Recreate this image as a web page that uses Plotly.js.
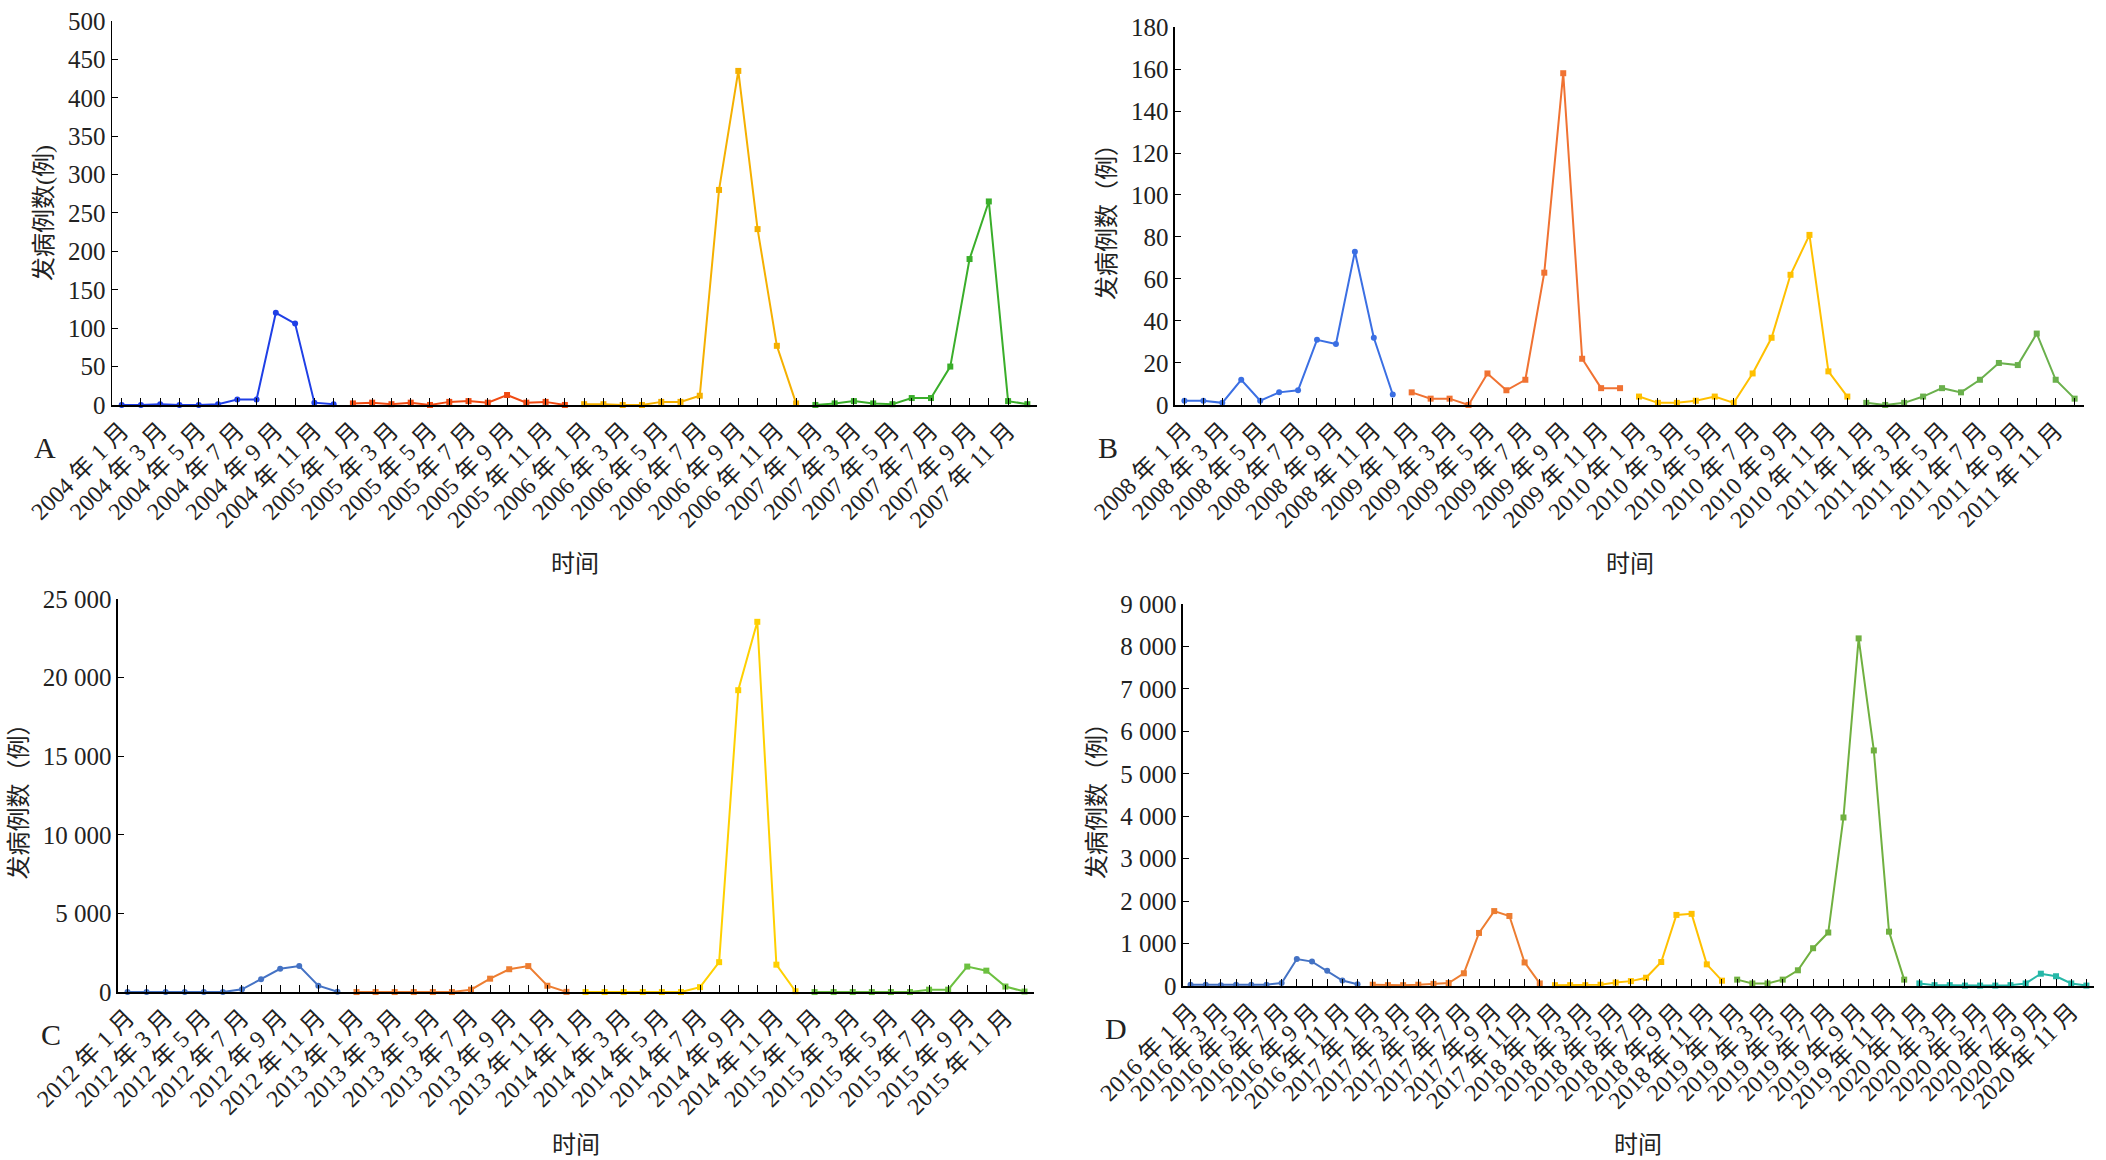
<!DOCTYPE html>
<html>
<head>
<meta charset="utf-8">
<script src="https://cdn.plot.ly/plotly-3.0.1.min.js"></script>
<style>body{margin:0;background:#fff}#chart{width:2106px;height:1160px}</style>
</head>
<body>
<div id="chart"></div>
<script>
var yearsA = ['2004', '2005', '2006', '2007'];
var yearsB = ['2008', '2009', '2010', '2011'];
var yearsC = ['2012', '2013', '2014', '2015'];
var yearsD = ['2016', '2017', '2018', '2019', '2020'];

var casesA = [
  [0, 0, 1, 0, 0, 1, 7, 7, 120, 106, 3, 1],
  [2, 3, 1, 3, 0, 4, 5, 3, 13, 3, 4, 0],
  [1, 1, 0, 0, 4, 4, 12, 280, 435, 229, 77, 2],
  [0, 2, 5, 2, 1, 9, 9, 50, 190, 265, 5, 1]
];
var casesB = [
  [2, 2, 1, 12, 2, 6, 7, 31, 29, 73, 32, 5],
  [6, 3, 3, 0, 15, 7, 12, 63, 158, 22, 8, 8],
  [4, 1, 1, 2, 4, 1, 15, 32, 62, 81, 16, 4],
  [1, 0, 1, 4, 8, 6, 12, 20, 19, 34, 12, 3]
];
var casesC = [
  [0, 0, 0, 0, 0, 0, 170, 810, 1480, 1650, 400, 20],
  [0, 0, 0, 0, 0, 0, 150, 850, 1450, 1650, 400, 10],
  [0, 0, 0, 0, 0, 0, 310, 1900, 19200, 23550, 1740, 50],
  [0, 0, 0, 0, 0, 0, 150, 150, 1620, 1360, 350, 30]
];
var casesD = [
  [30, 30, 20, 30, 30, 30, 70, 635, 575, 360, 130, 40],
  [30, 20, 20, 30, 50, 70, 300, 1250, 1765, 1650, 555, 60],
  [20, 20, 20, 30, 80, 115, 195, 565, 1675, 1700, 510, 125],
  [150, 60, 60, 150, 370, 890, 1260, 3970, 8190, 5550, 1280, 150],
  [60, 20, 20, 10, 10, 10, 20, 60, 290, 230, 60, 10]
];

var colorsA = ['#1f3fe6', '#f04a12', '#f5b000', '#3aae2a'];
var colorsB = ['#3b6fe3', '#f07232', '#ffc000', '#6ab04c'];
var colorsC = ['#4472c4', '#ed7d31', '#ffd000', '#6cc040'];
var colorsD = ['#4472c4', '#ed7d31', '#ffc000', '#70b040', '#26b8a8'];

var panels = [
  {years: yearsA, cases: casesA, colors: colorsA, x: [0.0532, 0.4924], y: [0.6509, 0.9819], range: [0, 500], dtick: 50, letter: 'A', title: '发病例数(例)', tY: 0.514},
  {years: yearsB, cases: casesB, colors: colorsB, x: [0.5579, 0.9896], y: [0.6509, 0.9767], range: [0, 180], dtick: 20, letter: 'B', title: '发病例数（例）', tY: 0.514},
  {years: yearsC, cases: casesC, colors: colorsC, x: [0.056, 0.491], y: [0.1448, 0.4836], range: [0, 25000], dtick: 5000, letter: 'C', title: '发病例数（例）', tY: 0.013},
  {years: yearsD, cases: casesD, colors: colorsD, x: [0.5617, 0.9943], y: [0.15, 0.4793], range: [0, 9000], dtick: 1000, letter: 'D', title: '发病例数（例）', tY: 0.013}
];

var font = {family: '"Liberation Serif", "Noto Sans CJK SC", serif', color: '#222'};
var data = [];
var layout = {
  width: 2106, height: 1160,
  margin: {l: 0, r: 0, t: 0, b: 0},
  paper_bgcolor: '#fff', plot_bgcolor: '#fff',
  showlegend: false,
  separators: '. ',
  font: font,
  annotations: []
};

panels.forEach(function (p, i) {
  var n = i === 0 ? '' : String(i + 1);
  var tickvals = [], ticktext = [];
  p.years.forEach(function (yr, j) {
    var xs = [];
    for (var m = 0; m < 12; m++) {
      xs.push(j * 12 + m);
      if (m % 2 === 0) {
        tickvals.push(j * 12 + m);
        ticktext.push(yr + ' 年 ' + (m + 1) + ' 月');
      }
    }
    data.push({
      x: xs, y: p.cases[j], type: 'scatter', mode: 'lines+markers',
      xaxis: 'x' + n, yaxis: 'y' + n, cliponaxis: false,
      line: {color: p.colors[j], width: 2},
      marker: {color: p.colors[j], size: 6, symbol: j === 0 ? 'circle' : 'square'}
    });
  });
  var nMonths = p.years.length * 12;
  layout['xaxis' + n] = {
    domain: p.x, anchor: 'y' + n, range: [-0.5, nMonths - 0.5],
    tickmode: 'array', tickvals: tickvals, ticktext: ticktext, tickangle: -45,
    showline: true, linecolor: '#000', linewidth: 2, showgrid: false, zeroline: false,
    ticks: 'inside', ticklen: 7, tickcolor: '#000',
    minor: {ticks: 'inside', dtick: 1, ticklen: 7, tickcolor: '#000'},
    tickfont: {family: font.family, size: 24, color: '#222'}
  };
  layout['yaxis' + n] = {
    domain: p.y, anchor: 'x' + n, range: p.range, dtick: p.dtick, tickformat: ',d',
    showline: true, linecolor: '#000', linewidth: 1.5, showgrid: false, zeroline: false,
    ticks: 'inside', ticklen: 6, tickcolor: '#000',
    tickfont: {family: font.family, size: 25, color: '#222'},
    title: {text: p.title, font: {family: font.family, size: 24, color: '#222'}, standoff: 8}
  };
  layout.annotations.push({
    text: p.letter, xref: 'paper', yref: 'paper', showarrow: false,
    x: p.x[0] - 0.032, y: p.y[0] - 0.037, xanchor: 'center', yanchor: 'middle',
    font: {family: font.family, size: 30, color: '#222'}
  });
  layout.annotations.push({
    text: '时间', xref: 'paper', yref: 'paper', showarrow: false,
    x: (p.x[0] + p.x[1]) / 2, y: p.tY, xanchor: 'center', yanchor: 'middle',
    font: {family: font.family, size: 24, color: '#222'}
  });
});

Plotly.newPlot('chart', data, layout, {staticPlot: true});
</script>
</body>
</html>
